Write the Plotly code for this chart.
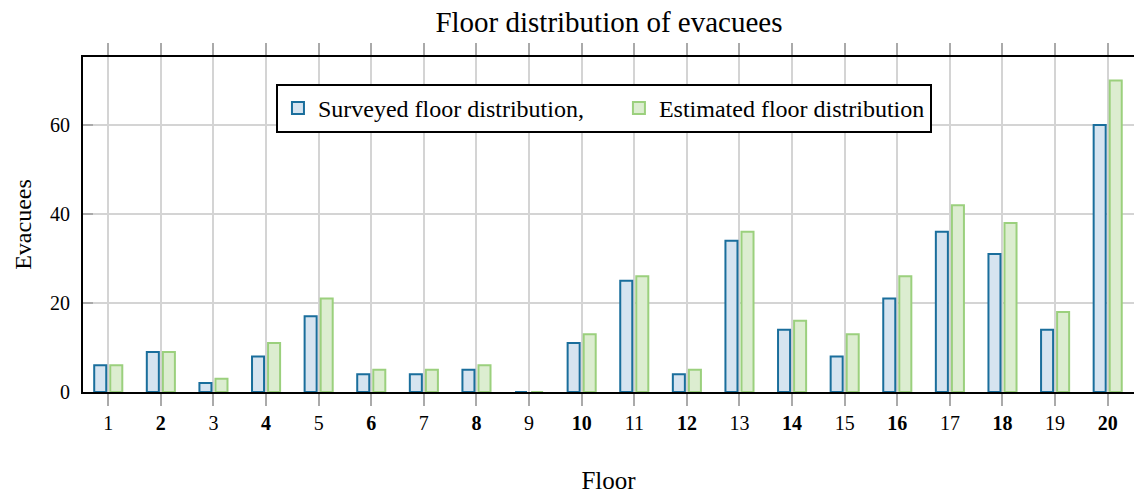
import plotly.graph_objects as go

floors = list(range(1, 21))
surveyed = [6, 9, 2, 8, 17, 4, 4, 5, 0, 11, 25, 4, 34, 14, 8, 21, 36, 31, 14, 60]
estimated = [6, 9, 3, 11, 21, 5, 5, 6, 0, 13, 26, 5, 36, 16, 13, 26, 42, 38, 18, 70]
tick_labels = [f"<b>{f}</b>" if f % 2 == 0 else str(f) for f in floors]

FONT = "Liberation Serif"
PAD = "&nbsp;" * 5  # extra room after the first legend entry

fig = go.Figure()
fig.add_trace(go.Bar(
    x=floors, y=surveyed, name="Surveyed floor distribution," + PAD,
    marker=dict(color="#d6e4f0", line=dict(color="#1a6e9c", width=2)),
))
fig.add_trace(go.Bar(
    x=floors, y=estimated, name="Estimated floor distribution",
    marker=dict(color="#dcedd0", line=dict(color="#9bd07d", width=2)),
))

fig.update_layout(
    width=1134, height=494,
    margin=dict(l=83, r=0, t=57, b=102),
    paper_bgcolor="white", plot_bgcolor="white",
    font=dict(family=FONT, size=20, color="black"),
    barmode="group", bargap=0.39, bargroupgap=0.25,
    title=dict(text="Floor distribution of evacuees", x=0.537, xanchor="center",
               y=0.955, yanchor="middle", font=dict(size=29)),
    legend=dict(orientation="h", x=0.1836, y=0.92, xanchor="left", yanchor="top",
                bordercolor="black", borderwidth=2, bgcolor="white",
                font=dict(size=24), itemwidth=30),
    showlegend=True,
)
fig.update_xaxes(
    range=[0.52, 20.5], tickmode="array", tickvals=floors, ticktext=tick_labels,
    tickfont=dict(size=20),
    showgrid=True, gridcolor="#d4d4d4", gridwidth=1.5,
    showline=True, linecolor="black", linewidth=2, mirror="allticks",
    ticks="outside", ticklen=12, tickcolor="#aaaaaa", tickwidth=1.5,
    title=dict(text="Floor", font=dict(size=25), standoff=40),
    zeroline=False,
)
fig.update_yaxes(
    range=[0, 75.3], tickvals=[0, 20, 40, 60], tickfont=dict(size=20),
    showgrid=True, gridcolor="#d4d4d4", gridwidth=1.5,
    showline=True, linecolor="black", linewidth=2, mirror=False,
    ticks="inside", ticklen=10, tickcolor="#aaaaaa", tickwidth=1.5,
    ticklabelstandoff=7,
    title=dict(text="Evacuees", font=dict(size=24), standoff=12),
    zeroline=False,
)

fig.write_html("out.html")
